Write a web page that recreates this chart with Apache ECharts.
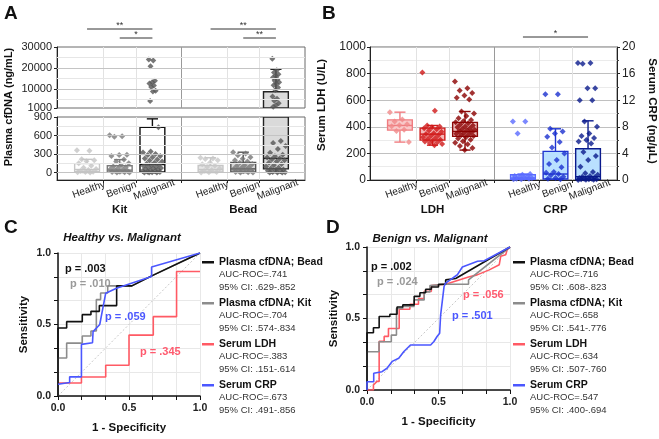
<!DOCTYPE html>
<html>
<head>
<meta charset="utf-8">
<script src="https://cdn.jsdelivr.net/npm/echarts@6/dist/echarts.min.js"></script>
<style>
  html, body { margin: 0; padding: 0; background: #fff; }
  #chart { width: 659px; height: 439px; }
</style>
</head>
<body>
<div id="chart"></div>
<script>
// ---------- data ----------
const categories = ['Healthy', 'Benign', 'Malignant'];
const groupsA = ['Kit', 'Bead'];
const groupsB = ['LDH', 'CRP'];

const ticksAUpper = [1000, 10000, 20000, 30000];
const ticksALower = [0, 300, 600, 900];
const ticksROC = [0, 0.5, 1];

// panel A, plasma cfDNA (ng/mL); box stats = [low, q1, median, q3, high]
const kitBoxes = [[0, 15, 50, 145, 215], [0, 10, 40, 110, 210], [0, 10, 130, 735, 870]];
const beadBoxes = [[0, 10, 50, 115, 240], [0, 10, 60, 165, 330], [0, 60, 230, 8700, 19400]];
const kitHealthy = [360, 355, 215, 200, 185, 150, 110, 80, 60, 40, 25, 15, 10, 5, 0];
const kitBenign = [605, 590, 580, 290, 285, 270, 210, 180, 150, 120, 100, 85, 70, 55, 45, 35, 25, 15, 10, 5, 0, 0];
const kitMalignant = [24100, 23600, 20800, 14000, 13300, 12700, 11700, 11000, 9200, 8800, 4300,
  735, 340, 325, 300, 285, 270, 250, 230, 210, 195, 180, 160, 145, 130, 120, 105, 95, 85, 75, 65,
  55, 45, 35, 25, 20, 15, 10, 5, 0, 0, 0];
const beadHealthy = [240, 230, 220, 200, 160, 135, 110, 90, 65, 40, 25, 10, 5, 0];
const beadBenign = [330, 310, 280, 250, 225, 200, 180, 160, 140, 120, 105, 90, 75, 60, 50, 40, 30, 20, 10, 5, 0, 0];
const beadMalignant = [24400, 18900, 17900, 17100, 16300, 15500, 14700, 13900, 13200, 12500, 11800, 10800,
  9500, 6500, 5400, 4400, 3300, 2300, 1600,
  510, 480, 430, 380, 320, 290, 265, 245, 230, 215, 200, 180, 160, 140, 120, 100, 80, 65, 50, 40,
  30, 20, 10, 5, 0, 0, 0];

// panel B, serum LDH (U/L) and CRP (ng/uL)
const ldhBoxes = [[285, 375, 410, 452, 510], [262, 300, 345, 390, 410], [225, 328, 365, 433, 515]];
const crpBoxes = [[0, 0.1, 0.3, 0.8, 0.9], [0, 0.15, 0.9, 4.3, 7.7], [0, 0.1, 0.5, 4.7, 8.9]];
const ldhHealthy = [510, 455, 440, 420, 412, 405, 378, 368, 285];
const ldhBenign = [808, 520, 410, 402, 396, 390, 382, 372, 362, 352, 345, 338, 330, 322, 315, 308, 302, 296, 290, 284, 278, 270, 262];
const ldhMalignant = [740, 690, 672, 655, 635, 618, 605, 515, 500, 482, 465, 452, 442, 434, 426, 418, 410, 402, 396, 390,
  384, 378, 372, 366, 360, 354, 348, 342, 336, 330, 322, 312, 302, 292, 280, 268, 255, 240, 225];
const crpHealthy = [8.8, 8.8, 7.0, 0.9, 0.8, 0.6, 0.5, 0.4, 0.3, 0.3, 0.2, 0.2, 0.1, 0.1];
const crpBenign = [12.9, 12.9, 7.7, 7.3, 7.0, 6.5, 5.7, 4.9, 4.0, 3.0, 2.4, 1.9, 1.2, 1.1, 0.9, 0.7, 0.5, 0.3, 0.2, 0.1];
const crpMalignant = [17.6, 17.6, 17.5, 13.8, 13.8, 12.0, 12.0, 8.8, 8.0, 7.0, 6.6, 6.3, 6.0, 5.8, 5.5, 4.2, 3.6, 3.0,
  2.0, 1.2, 1.0, 0.8, 0.6, 0.5, 0.4, 0.3, 0.3, 0.2, 0.2, 0.1, 0.1, 0.1, 0.05, 0.05, 0];

// panels C and D, ROC curves [1 - specificity, sensitivity]
const rocNames = ['Plasma cfDNA; Bead', 'Plasma cfDNA; Kit', 'Serum LDH', 'Serum CRP'];
const rocCBead = [[0, 0], [0, 0.476], [0.061, 0.476], [0.061, 0.52], [0.171, 0.52], [0.171, 0.569], [0.232, 0.569],
  [0.232, 0.592], [0.291, 0.592], [0.291, 0.632], [0.413, 0.632], [0.413, 0.77], [0.52, 0.77], [0.66, 0.84], [1, 1]];
const rocCKit = [[0, 0], [0, 0.266], [0.061, 0.266], [0.061, 0.37], [0.171, 0.37], [0.171, 0.42], [0.232, 0.42],
  [0.232, 0.455], [0.27, 0.455], [0.27, 0.674], [0.3, 0.674], [0.3, 0.72], [0.35, 0.72], [0.35, 0.77],
  [0.52, 0.77], [0.66, 0.84], [1, 1]];
const rocCLdh = [[0, 0.091], [0.165, 0.091], [0.165, 0.133], [0.336, 0.133], [0.336, 0.215], [0.5, 0.215],
  [0.5, 0.426], [0.671, 0.426], [0.671, 0.555], [0.835, 0.555], [0.835, 0.871], [1, 0.871]];
const rocCCrp = [[0, 0.082], [0.082, 0.094], [0.082, 0.134], [0.165, 0.134], [0.165, 0.361], [0.243, 0.372],
  [0.247, 0.45], [0.294, 0.5], [0.336, 0.719], [0.412, 0.754], [0.659, 0.836], [0.659, 0.902], [1, 1]];
const rocDBead = [[0, 0], [0, 0.4], [0.045, 0.4], [0.045, 0.435], [0.085, 0.435], [0.085, 0.514], [0.16, 0.514],
  [0.16, 0.53], [0.21, 0.53], [0.21, 0.58], [0.25, 0.58], [0.25, 0.595], [0.33, 0.595], [0.33, 0.655],
  [0.37, 0.655], [0.37, 0.68], [0.41, 0.68], [0.41, 0.705], [0.45, 0.705], [0.45, 0.72], [0.5, 0.72],
  [0.5, 0.74], [0.55, 0.74], [0.55, 0.77], [0.62, 0.78], [1, 1]];
const rocDKit = [[0, 0], [0, 0.267], [0.084, 0.267], [0.084, 0.337], [0.17, 0.337], [0.17, 0.384], [0.206, 0.384],
  [0.206, 0.57], [0.25, 0.57], [0.25, 0.585], [0.33, 0.585], [0.33, 0.63], [0.4, 0.63], [0.4, 0.686],
  [0.44, 0.686], [0.44, 0.73], [0.55, 0.74], [0.71, 0.74], [0.71, 0.77], [1, 1]];
const rocDLdh = [[0, 0], [0.045, 0], [0.045, 0.035], [0.07, 0.06], [0.085, 0.06], [0.085, 0.34], [0.12, 0.34],
  [0.12, 0.375], [0.15, 0.375], [0.15, 0.43], [0.225, 0.43], [0.225, 0.565], [0.3, 0.565], [0.3, 0.6],
  [0.36, 0.6], [0.36, 0.64], [0.4, 0.64], [0.4, 0.69], [0.45, 0.69], [0.45, 0.73], [0.55, 0.74],
  [0.71, 0.79], [0.77, 0.805], [0.855, 0.84], [0.925, 0.876], [0.935, 0.935], [0.97, 0.946], [0.98, 0.98], [1, 1]];
const rocDCrp = [[0, 0], [0, 0.058], [0.047, 0.058], [0.047, 0.117], [0.105, 0.128], [0.14, 0.152], [0.176, 0.2],
  [0.222, 0.222], [0.258, 0.269], [0.304, 0.315], [0.445, 0.315], [0.468, 0.339], [0.49, 0.374], [0.508, 0.397],
  [0.515, 0.526], [0.539, 0.724], [0.55, 0.748], [0.632, 0.806], [0.667, 0.86], [0.773, 0.9], [0.82, 0.904], [1, 1]];
const aucC = ['.741', '.704', '.383', '.673'];
const ciC = ['.629-.852', '.574-.834', '.151-.614', '.491-.856'];
const pC = ['.003', '.010', '.345', '.059'];
const aucD = ['.716', '.658', '.634', '.547'];
const ciD = ['.608-.823', '.541-.776', '.507-.760', '.400-.694'];
const pD = ['.002', '.024', '.056', '.501'];

// ---------- layout / style ----------
const FONT = '"Liberation Sans", Arial, sans-serif';
const GAP = 3.78;            // offset of the second group on the x scale
const X_MIN = -0.92, X_MAX = 6.67;
const BOX_W = 0.76;
const xPos = k => (k < 3 ? k : k - 3 + GAP);
const cuts = [0.5, 1.5, 4.28, 5.28];
const divider = (2 + GAP) / 2;
const jitter = (i, amp) => (((i * 0.618034) % 1) - 0.5) * amp;

const boxStyleA = [
  { stroke: '#c6c6c6', fill: '#ffffff', point: '#c4c4c4' },
  { stroke: '#7c7c7c', fill: '#ffffff', point: '#7a7a7a' },
  { stroke: '#111111', fill: '#ffffff', point: '#555555' },
  { stroke: '#c6c6c6', fill: '#e6e6e6', point: '#c8c8c8' },
  { stroke: '#555555', fill: '#d6d6d6', point: '#777777' },
  { stroke: '#222222', fill: '#dadada', point: '#555555' }
];
const boxStyleB = [
  { stroke: '#f07c80', fill: '#f9c9c9', point: '#f08a8a' },
  { stroke: '#d01c1c', fill: '#f4b8b8', point: '#d01818' },
  { stroke: '#8b0a0a', fill: '#efbcbc', point: '#8b0000' },
  { stroke: '#5a6aff', fill: '#b9d6ff', point: '#5a6aff' },
  { stroke: '#1f35d0', fill: '#b9e0ff', point: '#1a2fd0' },
  { stroke: '#0a1a8c', fill: '#b9e0ff', point: '#0a1a8c' }
];
const rocColors = ['#111111', '#8c8c8c', '#ff5a64', '#4b57ff'];

const catName = v => {
  for (let k = 0; k < 6; k++) if (Math.abs(xPos(k) - v) < 1e-6) return categories[k % 3];
  return '';
};
const groupName = names => v => (Math.abs(v - 1) < 1e-6 ? names[0] : names[1]);
const plain = v => String(v);

function boxRenderer(styles, yMin, yMax) {
  return function (params, api) {
    const x = api.value(0);
    const k = api.value(6);
    const st = styles[k];
    const lo = api.value(1), q1 = api.value(2), md = api.value(3), q3 = api.value(4), hi = api.value(5);
    const clamp = v => Math.min(yMax, Math.max(yMin, v));
    const inR = v => v >= yMin && v <= yMax;
    const Y = v => api.coord([x, clamp(v)])[1];
    const cx = api.coord([x, clamp(md)])[0];
    const w = api.size([BOX_W, 0])[0];
    const cap = w * 0.45;
    const line = (x1, y1, x2, y2) => ({
      type: 'line', shape: { x1, y1, x2, y2 }, style: { stroke: st.stroke, lineWidth: 1.4 }
    });
    const kids = [];
    if (hi > yMin && q3 < yMax) kids.push(line(cx, Y(q3), cx, Y(hi)));
    if (inR(hi)) kids.push(line(cx - cap / 2, Y(hi), cx + cap / 2, Y(hi)));
    if (q1 > yMin && lo < yMax) kids.push(line(cx, Y(lo), cx, Y(q1)));
    if (inR(lo)) kids.push(line(cx - cap / 2, Y(lo), cx + cap / 2, Y(lo)));
    if (q3 > yMin && q1 < yMax) {
      kids.push({
        type: 'rect',
        shape: { x: cx - w / 2, y: Y(q3), width: w, height: Y(q1) - Y(q3) },
        style: { fill: st.fill, stroke: st.stroke, lineWidth: 1.4 }
      });
    }
    if (inR(md)) kids.push(line(cx - w / 2, Y(md), cx + w / 2, Y(md)));
    return { type: 'group', children: kids };
  };
}

function boxData(boxes, offset) {
  return boxes.map((b, i) => [xPos(i + offset)].concat(b, [i + offset]));
}

function pointData(values, k, lo, hi, amp) {
  return values.map((v, i) => [xPos(k) + jitter(i, amp), v]).filter(p => p[1] >= lo && p[1] <= hi);
}

function vLines() {
  return cuts.map(c => ({ xAxis: c, lineStyle: { color: '#e2e2e2', width: 1, type: 'solid' } }))
    .concat([{ xAxis: divider, lineStyle: { color: '#9a9a9a', width: 1, type: 'solid' } }]);
}
function hLines(light, dark) {
  return light.map(v => ({ yAxis: v, lineStyle: { color: '#e6e6e6', width: 1, type: 'solid' } }))
    .concat(dark.map(v => ({ yAxis: v, lineStyle: { color: '#c4c4c4', width: 1, type: 'solid' } })));
}
function markLines(data) {
  return { silent: true, symbol: 'none', animation: false, label: { show: false }, data };
}

const tickLabel = { fontFamily: FONT, fontSize: 11, color: '#222', formatter: plain };
const axisBlack = { show: true, onZero: false, lineStyle: { color: '#222', width: 1 } };

function catAxis(gi) {
  return {
    gridIndex: gi, type: 'value', min: X_MIN, max: X_MAX, position: 'bottom',
    axisLine: axisBlack,
    axisTick: { show: true, customValues: cuts.concat([divider]), length: 3, lineStyle: { color: '#222' } },
    axisLabel: {
      customValues: [0, 1, 2, 3, 4, 5].map(xPos), formatter: catName,
      rotate: 20, align: 'center', verticalAlign: 'top', margin: 5,
      fontFamily: FONT, fontSize: 10, color: '#222'
    },
    splitLine: { show: false }
  };
}
function groupAxis(gi, names) {
  return {
    gridIndex: gi, type: 'value', min: X_MIN, max: X_MAX, position: 'bottom',
    axisLine: { show: false }, axisTick: { show: false }, splitLine: { show: false },
    axisLabel: {
      customValues: [1, 1 + GAP], formatter: groupName(names), margin: 24,
      fontFamily: FONT, fontSize: 11.5, fontWeight: 'bold', color: '#111'
    }
  };
}
const rocLabel = v => (ticksROC.some(t => Math.abs(v - t) < 1e-6) ? v.toFixed(1) : '');
function rocAxis(gi, dim, gap) {
  return {
    gridIndex: gi, type: 'value', min: 0, max: 1, interval: 1 / 6,
    name: dim === 'x' ? '1 - Specificity' : 'Sensitivity',
    nameLocation: 'middle', nameGap: gap,
    nameTextStyle: { fontFamily: FONT, fontWeight: 'bold', fontSize: 11.5, color: '#111' },
    axisLine: { show: true, onZero: false, lineStyle: { color: '#111', width: 1.5 } },
    axisTick: { show: true, length: 4, lineStyle: { color: '#111' } },
    axisLabel: { formatter: rocLabel, fontFamily: FONT, fontWeight: 'bold', fontSize: 10.5, color: '#222', margin: 7 },
    splitLine: { show: true, lineStyle: { color: '#e8e8e8' } }
  };
}

// ---------- series ----------
const series = [];
const aGroups = [kitHealthy, kitBenign, kitMalignant, beadHealthy, beadBenign, beadMalignant];
const aBoxes = boxData(kitBoxes, 0).concat(boxData(beadBoxes, 3));
[[0, 1000, 30000], [1, -120, 900]].forEach(([gi, lo, hi]) => {
  series.push({
    type: 'custom', xAxisIndex: gi, yAxisIndex: gi, clip: true, z: 2,
    renderItem: boxRenderer(boxStyleA, lo, hi), data: aBoxes, encode: { x: 0, y: 4 }
  });
  aGroups.forEach((vals, k) => {
    series.push({
      type: 'scatter', xAxisIndex: gi, yAxisIndex: gi, symbol: 'diamond', symbolSize: 6, z: 3,
      itemStyle: { color: boxStyleA[k].point }, clip: true,
      data: pointData(vals, k, gi === 0 ? 1000 : lo, gi === 0 ? hi : 900, gi === 0 ? 0.22 : 0.62),
      markLine: k === 0 ? markLines(vLines().concat(gi === 0
        ? hLines([5000, 15000, 25000], [10000, 20000])
        : hLines([150, 450, 750], [0, 300, 600]))) : undefined
    });
  });
});

// panel B
series.push({
  type: 'custom', xAxisIndex: 3, yAxisIndex: 2, clip: true, z: 2,
  renderItem: boxRenderer(boxStyleB, 0, 1000), data: boxData(ldhBoxes, 0), encode: { x: 0, y: 4 }
});
series.push({
  type: 'custom', xAxisIndex: 3, yAxisIndex: 3, clip: true, z: 2,
  renderItem: boxRenderer(boxStyleB, 0, 20), data: boxData(crpBoxes, 3), encode: { x: 0, y: 4 }
});
[ldhHealthy, ldhBenign, ldhMalignant, crpHealthy, crpBenign, crpMalignant].forEach((vals, k) => {
  series.push({
    type: 'scatter', xAxisIndex: 3, yAxisIndex: k < 3 ? 2 : 3, symbol: 'diamond', symbolSize: 6, z: 3,
    itemStyle: { color: boxStyleB[k].point },
    data: pointData(vals, k, -1, 1e9, 0.62),
    markLine: k === 0 ? markLines(vLines()) : undefined
  });
});

// panels C and D
const rocSets = [
  { xi: 5, yi: 4, curves: [rocCBead, rocCKit, rocCLdh, rocCCrp] },
  { xi: 6, yi: 5, curves: [rocDBead, rocDKit, rocDLdh, rocDCrp] }
];
rocSets.forEach(set => {
  series.push({
    type: 'line', xAxisIndex: set.xi, yAxisIndex: set.yi, symbol: 'none', silent: true, z: 1,
    data: [[0, 0], [1, 1]], lineStyle: { color: '#c8c8c8', width: 1, type: [2, 2] }
  });
  [2, 1, 0, 3].forEach(j => {
    series.push({
      type: 'line', name: rocNames[j], xAxisIndex: set.xi, yAxisIndex: set.yi,
      symbol: 'none', z: 3, data: set.curves[j],
      lineStyle: { color: rocColors[j], width: 1.6 }, itemStyle: { color: rocColors[j] }
    });
  });
});

// ---------- legends (C, D) ----------
const ICON = 'path://M0,0h12v0.01h-12zM0,5.1h12v2.4h-12zM0,37h12v0.01h-12z';
function rocLegend(left, auc, ci) {
  return {
    left, top: 256, orient: 'vertical', data: rocNames, selectedMode: false, padding: 0,
    icon: ICON, itemWidth: 12, itemHeight: 37, itemGap: 4,
    formatter: n => {
      const j = rocNames.indexOf(n);
      return '{n|' + n + '}\n{s|AUC-ROC=' + auc[j] + '}\n{s|95% CI: ' + ci[j] + '}';
    },
    textStyle: {
      rich: {
        n: { fontFamily: FONT, fontWeight: 'bold', fontSize: 10.5, lineHeight: 12.5, color: '#111' },
        s: { fontFamily: FONT, fontSize: 9.5, lineHeight: 12.5, color: '#333' }
      }
    }
  };
}

const option = {
  animation: false,
  backgroundColor: '#fff',
  textStyle: { fontFamily: FONT },
  grid: [
    { left: 57, top: 47, width: 248, height: 61 },
    { left: 57, top: 117, width: 248, height: 63 },
    { left: 370, top: 47, width: 247, height: 133 },
    { left: 58, top: 253, width: 142, height: 143 },
    { left: 367, top: 247, width: 143, height: 143 }
  ].map((g, i) => Object.assign({ show: i < 3, borderColor: '#6a6a6a', borderWidth: 1, outerBoundsMode: 'none' }, g)),
  xAxis: [
    { gridIndex: 0, type: 'value', min: X_MIN, max: X_MAX, show: false },
    catAxis(1),
    groupAxis(1, groupsA),
    catAxis(2),
    groupAxis(2, groupsB),
    rocAxis(3, 'x', 26),
    rocAxis(4, 'x', 26)
  ],
  yAxis: [
    {
      gridIndex: 0, type: 'value', min: 1000, max: 30000, axisLine: axisBlack,
      axisTick: { show: true, customValues: ticksAUpper, length: 3, lineStyle: { color: '#222' } },
      axisLabel: Object.assign({ customValues: ticksAUpper, margin: 5 }, tickLabel),
      splitLine: { show: false }
    },
    {
      gridIndex: 1, type: 'value', min: -120, max: 900, axisLine: axisBlack,
      axisTick: { show: true, customValues: ticksALower, length: 3, lineStyle: { color: '#222' } },
      axisLabel: Object.assign({ customValues: ticksALower, margin: 5 }, tickLabel),
      splitLine: { show: false }
    },
    {
      gridIndex: 2, type: 'value', min: 0, max: 1000, interval: 200, axisLine: axisBlack,
      axisTick: { show: true, length: 3, lineStyle: { color: '#222' } },
      minorTick: { show: true, splitNumber: 2, length: 2, lineStyle: { color: '#444' } },
      axisLabel: Object.assign({ margin: 4 }, tickLabel, { fontSize: 12 }),
      splitLine: { show: true, lineStyle: { color: '#c0c0c0' } },
      minorSplitLine: { show: true, lineStyle: { color: '#ebebeb' } }
    },
    {
      gridIndex: 2, type: 'value', min: 0, max: 20, interval: 4, position: 'right', axisLine: axisBlack,
      axisTick: { show: true, length: 3, lineStyle: { color: '#222' } },
      minorTick: { show: true, splitNumber: 2, length: 2, lineStyle: { color: '#444' } },
      axisLabel: Object.assign({ margin: 5 }, tickLabel, { fontSize: 12 }),
      splitLine: { show: false }
    },
    rocAxis(3, 'y', 28),
    rocAxis(4, 'y', 27)
  ],
  legend: [rocLegend(202, aucC, ciC), rocLegend(513, aucD, ciD)],
  series
};

const chart = echarts.init(document.getElementById('chart'));
chart.setOption(option);

// ---------- text annotations ----------
const bold = s => 'bold ' + s + 'px ' + FONT;
const txt = (x, y, text, font, extra) => Object.assign({
  type: 'text', x, y, silent: true,
  style: { text, font, fill: '#111', align: 'center', verticalAlign: 'middle' }
}, extra || {});
const letter = (x, y, text) => ({
  type: 'text', x, y, silent: true,
  style: { text, font: bold(19), fill: '#111', align: 'left', verticalAlign: 'top' }
});

const graphics = [
  letter(4, 4, 'A'), letter(322, 4, 'B'), letter(4, 218, 'C'), letter(326, 218, 'D'),
  txt(9, 107, 'Plasma cfDNA (ng/mL)', bold(11), { rotation: Math.PI / 2 }),
  txt(322, 105, 'Serum LDH (U/L)', bold(11.5), { rotation: Math.PI / 2 }),
  txt(652, 111, 'Serum CRP (ng/\u03bcL)', bold(11.5), { rotation: -Math.PI / 2 }),
  txt(122, 238, 'Healthy vs. Malignant', 'italic ' + bold(11.5)),
  txt(430, 239, 'Benign vs. Malignant', 'italic ' + bold(11.5))
];

// p-value labels, left aligned
const pColors = ['#111111', '#9a9a9a', '#ff5a6e', '#4b57ff'];
const pPosC = [[65, 269], [70, 284], [140, 352], [105, 317]];
const pPosD = [[371, 267], [377, 282], [463, 295], [452, 316]];
[[pC, pPosC], [pD, pPosD]].forEach(([vals, pos]) => {
  vals.forEach((p, j) => {
    graphics.push({
      type: 'text', x: pos[j][0], y: pos[j][1], silent: true,
      style: { text: 'p = ' + p, font: bold(11), fill: pColors[j], align: 'left', verticalAlign: 'middle' }
    });
  });
});

// significance brackets, placed through the chart's own x scale
const sig = [
  { grid: 1, from: 0, to: 2, y: 29, text: '**' },
  { grid: 1, from: 1, to: 2, y: 38, text: '*' },
  { grid: 1, from: 3, to: 5, y: 29, text: '**' },
  { grid: 1, from: 4, to: 5, y: 38, text: '**' },
  { grid: 2, from: 3, to: 5, y: 37, text: '*' }
];
sig.forEach(s => {
  const x1 = chart.convertToPixel({ gridIndex: s.grid }, [xPos(s.from), 0])[0];
  const x2 = chart.convertToPixel({ gridIndex: s.grid }, [xPos(s.to), 0])[0];
  graphics.push({
    type: 'line', silent: true, shape: { x1, y1: s.y, x2, y2: s.y },
    style: { stroke: '#333', lineWidth: 1 }
  });
  graphics.push(txt((x1 + x2) / 2, s.y - 3.5, s.text, '9px ' + FONT, { style: { text: s.text, font: '9px ' + FONT, fill: '#333', align: 'center', verticalAlign: 'middle' } }));
});

chart.setOption({ graphic: graphics });
</script>
</body>
</html>
